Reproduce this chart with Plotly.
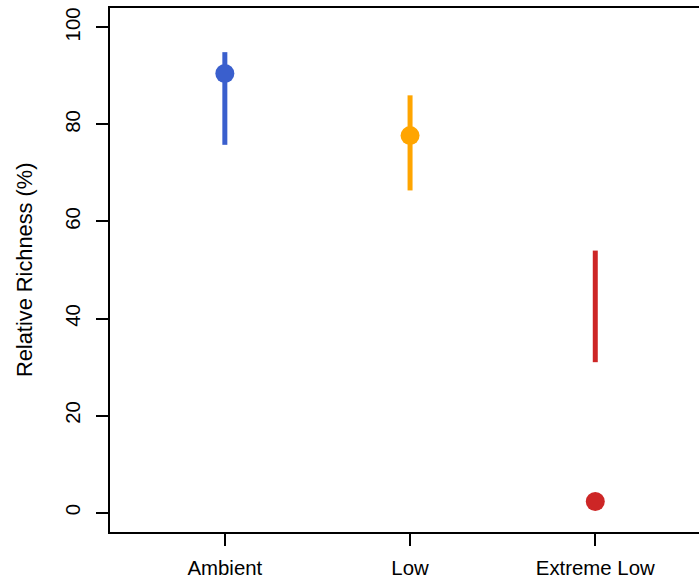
import plotly.graph_objects as go

categories = ["Ambient", "Low", "Extreme Low"]
point_values = [90.5, 77.7, 2.3]
ci_upper = [94.9, 86.0, 54.0]
ci_lower = [75.8, 66.4, 31.0]
colors = ["#3A5FCD", "#FFA500", "#CD2626"]
y_ticks = [0, 20, 40, 60, 80, 100]

FONT = "Liberation Sans, Arial, sans-serif"

fig = go.Figure()
for cat, lo, hi, col in zip(categories, ci_lower, ci_upper, colors):
    fig.add_trace(go.Scatter(x=[cat, cat], y=[lo, hi], mode="lines",
                             line=dict(color=col, width=5), showlegend=False,
                             hoverinfo="skip"))
fig.add_trace(go.Scatter(x=categories, y=point_values, mode="markers",
                         marker=dict(color=colors, size=19, line=dict(width=0)),
                         showlegend=False))

fig.update_layout(
    width=699, height=585,
    margin=dict(l=110, r=0, t=8, b=53),
    plot_bgcolor="white", paper_bgcolor="white",
    font=dict(family=FONT, size=20.4, color="#000000"),
    xaxis=dict(type="category", categoryorder="array", categoryarray=categories,
               range=[-0.62, 2.56], showgrid=False, zeroline=False,
               showline=True, linecolor="#000000", linewidth=1.6, mirror=True,
               ticks="outside", ticklen=12, tickwidth=1.6, tickcolor="#000000",
               tickfont=dict(size=20.4), ticklabelstandoff=5),
    yaxis=dict(range=[-4, 104], tickvals=y_ticks, ticktext=[str(v) for v in y_ticks],
               showgrid=False, zeroline=False,
               showline=True, linecolor="#000000", linewidth=1.6,
               ticks="outside", ticklen=12, tickwidth=1.6, tickcolor="#000000",
               tickangle=-90, tickfont=dict(size=20.4), ticklabelstandoff=8),
    annotations=[dict(text="Relative Richness (%)", xref="paper", yref="paper",
                      x=(24 - 110) / 589, y=0.5, xanchor="center", yanchor="middle",
                      textangle=-90, showarrow=False, font=dict(size=21.8))],
)

fig.write_html("out.html")
